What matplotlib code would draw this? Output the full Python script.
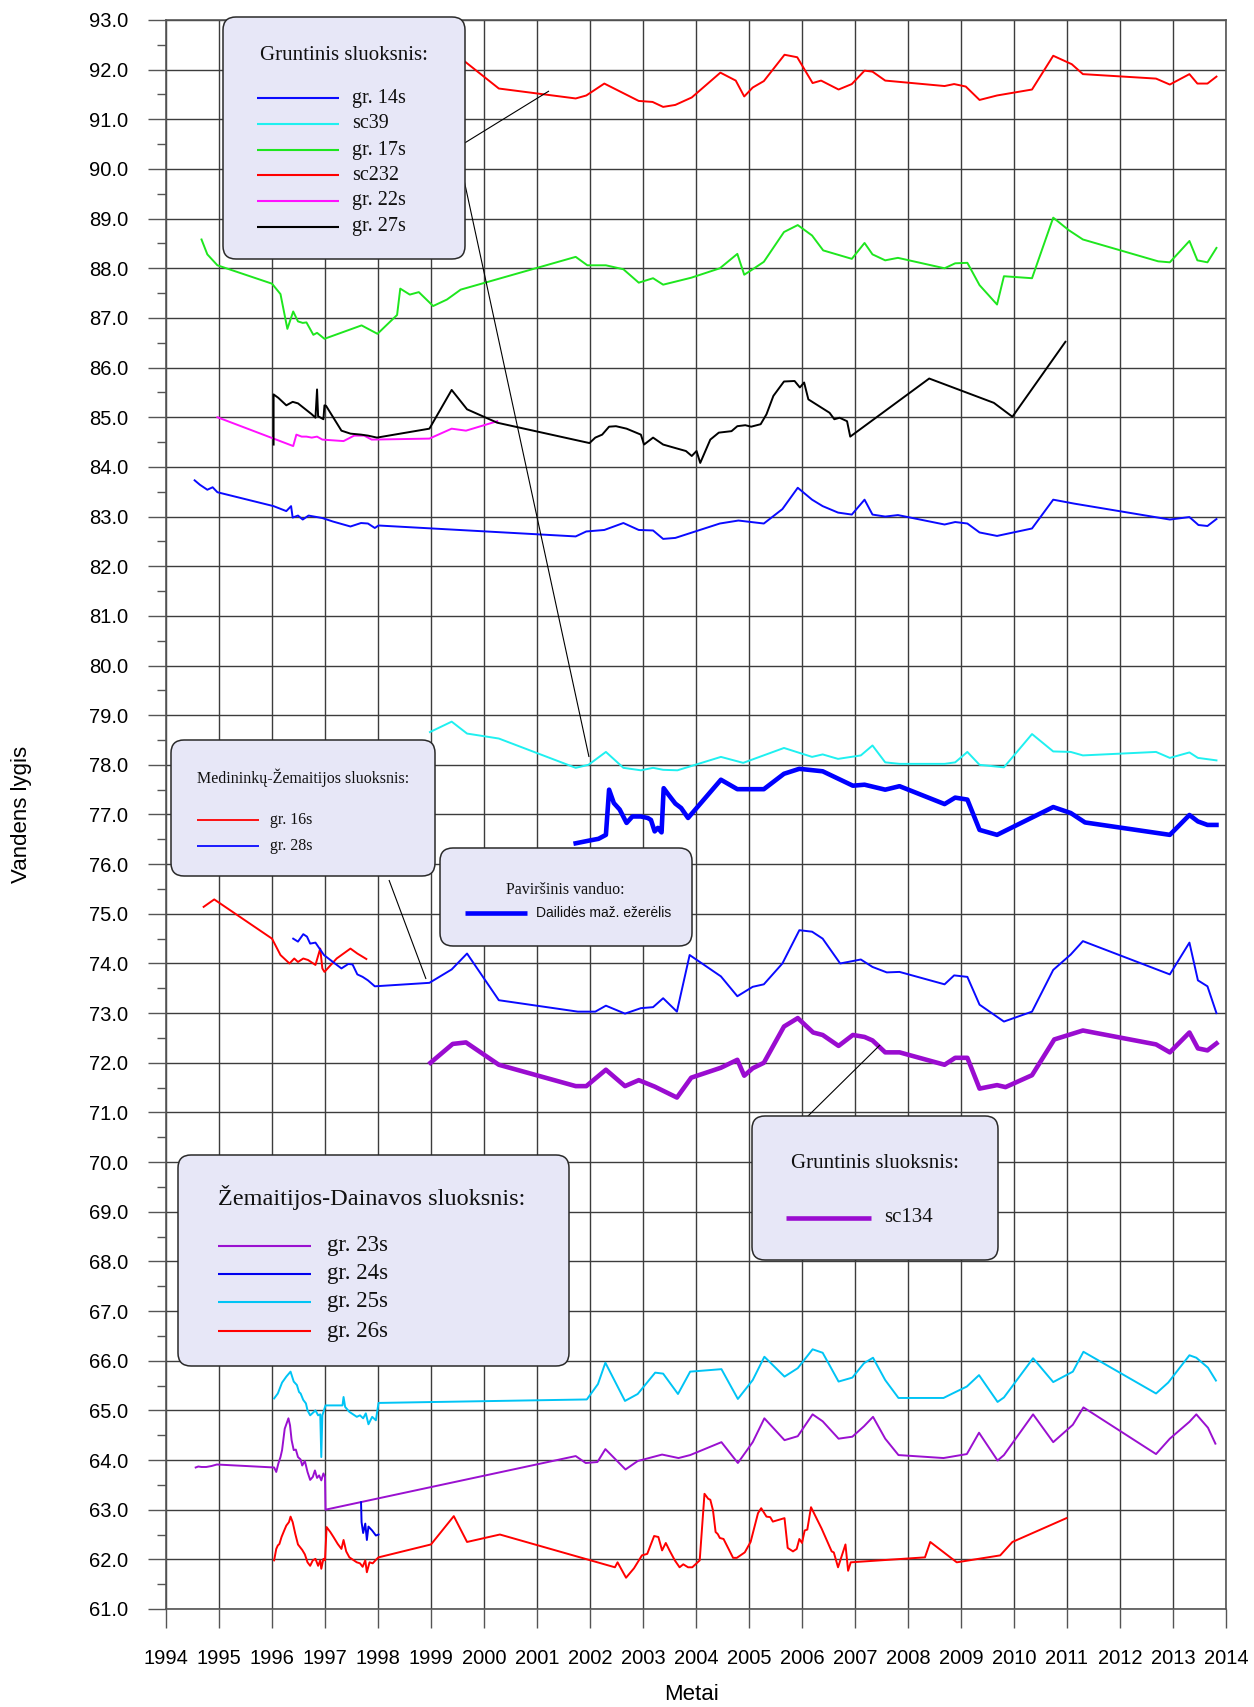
import matplotlib
matplotlib.use("Agg")
import matplotlib.pyplot as plt
from matplotlib.lines import Line2D
from matplotlib.patches import FancyBboxPatch
from matplotlib.transforms import IdentityTransform
from matplotlib.ticker import MultipleLocator, FormatStrFormatter

W, H = 1254, 1707
SANS = "Liberation Sans"
SERIF = "Liberation Serif"

# ---- data (year, level) ----
sc232_x = [1999.30, 1999.62, 2000.28, 2001.73, 2001.93, 2002.27, 2002.92, 2003.18, 2003.38, 2003.61,
           2003.92, 2004.46, 2004.75, 2004.91, 2005.07, 2005.28, 2005.67, 2005.91, 2006.20, 2006.36,
           2006.69, 2006.94, 2007.18, 2007.33, 2007.57, 2008.69, 2008.87, 2009.09, 2009.35, 2009.68,
           2010.34, 2010.74, 2011.09, 2011.30, 2012.68, 2012.94, 2013.31, 2013.46, 2013.65, 2013.82]
sc232_y = [92.45, 92.18, 91.62, 91.42, 91.48, 91.72, 91.37, 91.35, 91.25, 91.29,
           91.44, 91.94, 91.78, 91.46, 91.64, 91.77, 92.30, 92.25, 91.73, 91.78,
           91.60, 91.71, 91.98, 91.96, 91.78, 91.67, 91.71, 91.66, 91.39, 91.48,
           91.60, 92.28, 92.11, 91.91, 91.82, 91.70, 91.91, 91.72, 91.72, 91.86]

gr17_x = [1994.67, 1994.78, 1994.97, 1996.00, 1996.16, 1996.29, 1996.40, 1996.49, 1996.58, 1996.65,
          1996.78, 1996.85, 1996.99, 1997.69, 1997.99, 1998.36, 1998.42, 1998.60, 1998.77, 1999.04,
          1999.30, 1999.56, 2001.73, 2001.95, 2002.30, 2002.63, 2002.92, 2003.19, 2003.38, 2003.91,
          2004.45, 2004.78, 2004.91, 2005.07, 2005.28, 2005.66, 2005.92, 2006.19, 2006.40, 2006.94,
          2007.18, 2007.33, 2007.57, 2007.81, 2008.69, 2008.89, 2009.12, 2009.35, 2009.68, 2009.81,
          2010.34, 2010.74, 2011.03, 2011.30, 2012.72, 2012.94, 2013.31, 2013.46, 2013.65, 2013.82]
gr17_y = [88.58, 88.28, 88.06, 87.69, 87.48, 86.78, 87.13, 86.93, 86.90, 86.91,
          86.66, 86.70, 86.58, 86.85, 86.68, 87.06, 87.59, 87.47, 87.52, 87.24,
          87.37, 87.57, 88.23, 88.06, 88.06, 87.98, 87.71, 87.80, 87.67, 87.81,
          88.00, 88.29, 87.87, 87.98, 88.13, 88.73, 88.87, 88.66, 88.36, 88.19,
          88.51, 88.28, 88.16, 88.21, 88.00, 88.10, 88.11, 87.66, 87.27, 87.84,
          87.80, 89.02, 88.77, 88.58, 88.14, 88.12, 88.55, 88.16, 88.12, 88.41]

gr27_x = [1996.03, 1996.03, 1996.12, 1996.27, 1996.39, 1996.49, 1996.62, 1996.75, 1996.82, 1996.85,
          1996.87, 1996.97, 1996.99, 1997.02, 1997.31, 1997.48, 1997.68, 1997.81, 1997.98, 1998.97,
          1999.39, 1999.68, 2000.25, 2001.99, 2002.10, 2002.23, 2002.36, 2002.49, 2002.69, 2002.96,
          2003.02, 2003.19, 2003.38, 2003.61, 2003.81, 2003.92, 2004.01, 2004.08, 2004.27, 2004.43,
          2004.67, 2004.78, 2004.93, 2005.04, 2005.22, 2005.33, 2005.46, 2005.66, 2005.86, 2005.96,
          2006.04, 2006.12, 2006.52, 2006.61, 2006.71, 2006.85, 2006.91, 2008.40, 2009.62, 2009.97,
          2010.97]
gr27_y = [84.45, 85.46, 85.39, 85.24, 85.31, 85.28, 85.17, 85.06, 84.99, 85.56,
          85.02, 84.96, 85.24, 85.23, 84.73, 84.67, 84.65, 84.63, 84.59, 84.77,
          85.55, 85.16, 84.89, 84.48, 84.59, 84.65, 84.81, 84.82, 84.77, 84.65,
          84.45, 84.59, 84.45, 84.38, 84.32, 84.22, 84.32, 84.08, 84.55, 84.69,
          84.72, 84.82, 84.84, 84.81, 84.86, 85.06, 85.43, 85.72, 85.73, 85.60,
          85.70, 85.36, 85.09, 84.96, 84.99, 84.92, 84.61, 85.78, 85.29, 85.01,
          86.52]

gr22_x = [1994.97, 1996.03, 1996.40, 1996.46, 1996.56, 1996.65, 1996.75, 1996.85, 1996.95, 1997.35,
          1997.55, 1997.74, 1997.88, 1998.97, 1999.39, 1999.66, 2000.25]
gr22_y = [85.00, 84.57, 84.42, 84.65, 84.61, 84.61, 84.59, 84.61, 84.55, 84.52,
          84.63, 84.63, 84.55, 84.57, 84.77, 84.73, 84.92]

gr14_x = [1994.54, 1994.64, 1994.78, 1994.88, 1994.97, 1996.03, 1996.27, 1996.36, 1996.39, 1996.49,
          1996.58, 1996.69, 1996.95, 1997.15, 1997.48, 1997.68, 1997.81, 1997.94, 1998.01, 2001.73,
          2001.93, 2002.27, 2002.63, 2002.92, 2003.19, 2003.38, 2003.61, 2004.45, 2004.80, 2005.28,
          2005.63, 2005.92, 2006.19, 2006.39, 2006.68, 2006.94, 2007.18, 2007.33, 2007.57, 2007.81,
          2008.69, 2008.89, 2009.12, 2009.35, 2009.68, 2010.34, 2010.74, 2011.14, 2012.94, 2013.31,
          2013.48, 2013.65, 2013.82]
gr14_y = [83.73, 83.64, 83.54, 83.59, 83.49, 83.21, 83.11, 83.21, 82.98, 83.02,
          82.94, 83.02, 82.97, 82.90, 82.80, 82.87, 82.86, 82.77, 82.82, 82.60,
          82.70, 82.73, 82.87, 82.73, 82.72, 82.55, 82.57, 82.86, 82.92, 82.86,
          83.15, 83.58, 83.34, 83.21, 83.08, 83.04, 83.34, 83.04, 83.00, 83.03,
          82.84, 82.89, 82.86, 82.68, 82.61, 82.76, 83.34, 83.26, 82.94, 82.99,
          82.83, 82.81, 82.95]

sc39_x = [1998.98, 1999.39, 1999.68, 2000.28, 2001.73, 2001.97, 2002.30, 2002.63, 2002.96, 2003.19,
          2003.38, 2003.65, 2004.47, 2004.89, 2005.66, 2006.19, 2006.39, 2006.68, 2007.11, 2007.33,
          2007.57, 2007.84, 2008.69, 2008.89, 2009.12, 2009.35, 2009.81, 2010.34, 2010.74, 2011.07,
          2011.30, 2012.68, 2012.94, 2013.31, 2013.47, 2013.82]
sc39_y = [78.66, 78.87, 78.63, 78.53, 77.94, 78.00, 78.26, 77.94, 77.89, 77.94,
          77.90, 77.89, 78.16, 78.04, 78.34, 78.16, 78.21, 78.12, 78.19, 78.39,
          78.05, 78.02, 78.02, 78.05, 78.26, 78.00, 77.95, 78.62, 78.27, 78.26,
          78.19, 78.26, 78.14, 78.25, 78.14, 78.09]

dail_x = [2001.73, 2002.01, 2002.16, 2002.30, 2002.36, 2002.45, 2002.56, 2002.69, 2002.80, 2002.96,
          2003.09, 2003.15, 2003.22, 2003.28, 2003.35, 2003.39, 2003.48, 2003.61, 2003.72, 2003.85,
          2004.47, 2004.78, 2005.28, 2005.66, 2005.95, 2006.39, 2006.96, 2007.18, 2007.57, 2007.84,
          2008.69, 2008.89, 2009.12, 2009.35, 2009.68, 2010.74, 2011.07, 2011.34, 2012.94, 2013.31,
          2013.47, 2013.65, 2013.82]
dail_y = [76.42, 76.48, 76.51, 76.59, 77.50, 77.23, 77.10, 76.83, 76.96, 76.96,
          76.93, 76.89, 76.66, 76.73, 76.64, 77.53, 77.40, 77.22, 77.13, 76.93,
          77.70, 77.51, 77.51, 77.82, 77.92, 77.87, 77.58, 77.60, 77.50, 77.57,
          77.21, 77.34, 77.30, 76.69, 76.59, 77.15, 77.03, 76.84, 76.59, 76.99,
          76.86, 76.79, 76.79]

gr16_x = [1994.71, 1994.91, 1996.00, 1996.16, 1996.33, 1996.42, 1996.49, 1996.59, 1996.68, 1996.82,
          1996.91, 1996.95, 1996.99, 1997.22, 1997.48, 1997.61, 1997.78]
gr16_y = [75.14, 75.29, 74.50, 74.17, 74.00, 74.10, 74.03, 74.10, 74.07, 73.97,
          74.30, 73.90, 73.83, 74.10, 74.30, 74.20, 74.09]

gr28_x = [1996.40, 1996.49, 1996.59, 1996.66, 1996.72, 1996.82, 1996.98, 1997.15, 1997.31, 1997.44,
          1997.52, 1997.61, 1997.71, 1997.81, 1997.94, 1998.97, 1999.39, 1999.68, 2000.28, 2001.77,
          2002.10, 2002.30, 2002.66, 2002.96, 2003.19, 2003.38, 2003.64, 2003.88, 2004.47, 2004.78,
          2005.07, 2005.28, 2005.63, 2005.95, 2006.19, 2006.39, 2006.72, 2007.11, 2007.33, 2007.60,
          2007.84, 2008.69, 2008.87, 2009.12, 2009.35, 2009.81, 2010.34, 2010.74, 2011.07, 2011.30,
          2012.94, 2013.31, 2013.47, 2013.65, 2013.82]
gr28_y = [74.50, 74.44, 74.59, 74.54, 74.40, 74.42, 74.17, 74.03, 73.90, 73.99,
          73.98, 73.78, 73.73, 73.66, 73.54, 73.61, 73.88, 74.20, 73.26, 73.03,
          73.03, 73.15, 72.99, 73.10, 73.12, 73.30, 73.03, 74.17, 73.74, 73.34,
          73.53, 73.58, 74.00, 74.67, 74.64, 74.50, 74.00, 74.08, 73.93, 73.82,
          73.83, 73.58, 73.76, 73.73, 73.17, 72.83, 73.03, 73.87, 74.18, 74.45,
          73.78, 74.42, 73.66, 73.54, 73.00]

sc134_x = [1998.99, 1999.41, 1999.66, 2000.28, 2001.73, 2001.93, 2002.30, 2002.66, 2002.92, 2003.22,
           2003.64, 2003.91, 2004.47, 2004.78, 2004.91, 2005.07, 2005.28, 2005.66, 2005.92, 2006.21,
           2006.39, 2006.69, 2006.96, 2007.18, 2007.33, 2007.57, 2007.84, 2008.69, 2008.89, 2009.12,
           2009.35, 2009.68, 2009.84, 2010.34, 2010.76, 2011.30, 2012.68, 2012.94, 2013.31, 2013.47,
           2013.65, 2013.82]
sc134_y = [72.00, 72.38, 72.41, 71.96, 71.53, 71.53, 71.86, 71.53, 71.65, 71.52,
           71.30, 71.70, 71.90, 72.06, 71.74, 71.89, 72.00, 72.73, 72.90, 72.61,
           72.56, 72.34, 72.56, 72.52, 72.45, 72.21, 72.21, 71.96, 72.10, 72.10,
           71.48, 71.55, 71.51, 71.75, 72.47, 72.65, 72.37, 72.21, 72.61, 72.29,
           72.25, 72.39]

gr25_x = [1996.04, 1996.11, 1996.19, 1996.27, 1996.35, 1996.41, 1996.47, 1996.51, 1996.54, 1996.59,
          1996.64, 1996.67, 1996.72, 1996.77, 1996.82, 1996.87, 1996.91, 1996.93, 1996.95, 1997.01,
          1997.33, 1997.35, 1997.38, 1997.46, 1997.53, 1997.60, 1997.66, 1997.72, 1997.77, 1997.82,
          1997.89, 1997.96, 1998.01, 2001.94, 2002.15, 2002.29, 2002.66, 2002.90, 2003.23, 2003.38,
          2003.66, 2003.89, 2004.48, 2004.79, 2005.07, 2005.29, 2005.67, 2005.92, 2006.20, 2006.39,
          2006.69, 2006.95, 2007.17, 2007.34, 2007.57, 2007.82, 2008.67, 2008.84, 2009.11, 2009.34,
          2009.69, 2009.81, 2010.36, 2010.74, 2011.11, 2011.31, 2012.68, 2012.91, 2013.31, 2013.44,
          2013.66, 2013.81]
gr25_y = [65.24, 65.34, 65.56, 65.68, 65.78, 65.58, 65.51, 65.37, 65.34, 65.21,
          65.14, 65.00, 64.90, 64.95, 65.00, 64.90, 64.92, 64.06, 64.90, 65.10,
          65.10, 65.27, 65.07, 64.97, 64.92, 64.87, 64.90, 64.84, 64.94, 64.72,
          64.87, 64.80, 65.15, 65.22, 65.53, 65.96, 65.19, 65.33, 65.76, 65.74,
          65.33, 65.78, 65.83, 65.23, 65.61, 66.08, 65.68, 65.85, 66.23, 66.16,
          65.58, 65.66, 65.95, 66.06, 65.61, 65.25, 65.25, 65.34, 65.48, 65.71,
          65.17, 65.26, 66.05, 65.57, 65.78, 66.18, 65.34, 65.56, 66.11, 66.06,
          65.86, 65.60]

gr23_x = [1994.56, 1994.61, 1994.67, 1994.76, 1994.86, 1994.96, 1996.04, 1996.08, 1996.12, 1996.16,
          1996.19, 1996.24, 1996.31, 1996.34, 1996.37, 1996.41, 1996.45, 1996.49, 1996.54, 1996.57,
          1996.62, 1996.67, 1996.72, 1996.77, 1996.81, 1996.85, 1996.89, 1996.93, 1996.97, 1997.00,
          1997.01, 2001.73, 2001.92, 2002.14, 2002.29, 2002.67, 2002.90, 2003.36, 2003.67, 2003.89,
          2004.48, 2004.79, 2005.07, 2005.29, 2005.67, 2005.92, 2006.20, 2006.39, 2006.69, 2006.95,
          2007.17, 2007.34, 2007.57, 2007.82, 2008.67, 2009.11, 2009.34, 2009.69, 2009.81, 2010.36,
          2010.74, 2011.11, 2011.31, 2012.68, 2012.94, 2013.31, 2013.44, 2013.66, 2013.80]
gr23_y = [63.85, 63.87, 63.86, 63.86, 63.88, 63.91, 63.85, 63.76, 63.93, 64.06,
          64.20, 64.63, 64.84, 64.70, 64.40, 64.20, 64.21, 64.06, 64.01, 63.89,
          63.98, 63.76, 63.60, 63.66, 63.79, 63.64, 63.69, 63.59, 63.73, 63.66,
          63.00, 64.08, 63.94, 63.96, 64.22, 63.81, 63.98, 64.11, 64.04, 64.10,
          64.36, 63.94, 64.36, 64.84, 64.40, 64.48, 64.92, 64.78, 64.43, 64.47,
          64.68, 64.87, 64.43, 64.10, 64.04, 64.12, 64.55, 63.99, 64.10, 64.92,
          64.36, 64.71, 65.06, 64.12, 64.43, 64.77, 64.92, 64.65, 64.33]

gr24_x = [1997.68, 1997.69, 1997.72, 1997.76, 1997.79, 1997.82, 1997.89, 1997.96, 1998.01]
gr24_y = [63.15, 62.75, 62.53, 62.72, 62.39, 62.66, 62.58, 62.48, 62.50]

gr26_x = [1996.04, 1996.08, 1996.11, 1996.14, 1996.18, 1996.23, 1996.27, 1996.32, 1996.35, 1996.39,
          1996.44, 1996.49, 1996.57, 1996.62, 1996.67, 1996.72, 1996.77, 1996.82, 1996.87, 1996.91,
          1996.93, 1996.97, 1997.00, 1997.03, 1997.10, 1997.16, 1997.24, 1997.31, 1997.35, 1997.40,
          1997.46, 1997.53, 1997.60, 1997.66, 1997.71, 1997.76, 1997.79, 1997.84, 1997.90, 1997.96,
          1998.01, 1999.00, 1999.43, 1999.68, 2000.30, 2002.47, 2002.52, 2002.68, 2002.83, 2002.98,
          2003.08, 2003.21, 2003.29, 2003.36, 2003.43, 2003.50, 2003.60, 2003.69, 2003.76, 2003.85,
          2003.93, 2004.07, 2004.16, 2004.23, 2004.27, 2004.32, 2004.37, 2004.41, 2004.45, 2004.52,
          2004.70, 2004.77, 2004.92, 2005.03, 2005.17, 2005.23, 2005.33, 2005.40, 2005.45, 2005.67,
          2005.73, 2005.83, 2005.90, 2005.95, 2006.00, 2006.05, 2006.10, 2006.17, 2006.37, 2006.56,
          2006.60, 2006.68, 2006.82, 2006.87, 2006.92, 2008.32, 2008.42, 2008.92, 2009.74, 2009.97,
          2010.99]
gr26_y = [61.98, 62.21, 62.28, 62.31, 62.45, 62.58, 62.68, 62.75, 62.86, 62.75,
          62.51, 62.30, 62.19, 62.10, 61.94, 61.87, 61.98, 62.01, 61.87, 61.98,
          61.81, 62.01, 61.98, 62.65, 62.55, 62.45, 62.31, 62.21, 62.39, 62.16,
          62.04, 61.99, 61.94, 61.92, 61.85, 61.98, 61.74, 61.94, 61.92, 61.99,
          62.04, 62.30, 62.87, 62.35, 62.50, 61.84, 61.94, 61.63, 61.82, 62.08,
          62.11, 62.47, 62.45, 62.18, 62.33, 62.18, 61.98, 61.84, 61.90, 61.84,
          61.84, 61.98, 63.32, 63.22, 63.20, 62.99, 62.55, 62.51, 62.43, 62.41,
          62.03, 62.03, 62.14, 62.35, 62.93, 63.03, 62.86, 62.85, 62.76, 62.83,
          62.23, 62.16, 62.21, 62.41, 62.33, 62.58, 62.60, 63.05, 62.62, 62.16,
          62.14, 61.84, 62.30, 61.77, 61.94, 62.04, 62.35, 61.94, 62.08, 62.35,
          62.83]

years = list(range(1994, 2015))

# ---- figure ----
fig = plt.figure(figsize=(W / 100, H / 100), dpi=100)
fig.patch.set_facecolor("white")
ax = fig.add_axes([166 / W, 1 - 1609 / H, (1226 - 166) / W, (1609 - 20) / H])

thin = 1.4
ax.plot(gr14_x, gr14_y, color="#0a0aff", lw=thin)
ax.plot(sc39_x, sc39_y, color="#1ff0f0", lw=thin)
ax.plot(gr17_x, gr17_y, color="#1ee61e", lw=thin)
ax.plot(sc232_x, sc232_y, color="#ff0000", lw=thin)
ax.plot(gr22_x, gr22_y, color="#ff10ff", lw=thin)
ax.plot(gr27_x, gr27_y, color="#000000", lw=thin)
ax.plot(gr16_x, gr16_y, color="#ff0000", lw=thin)
ax.plot(gr28_x, gr28_y, color="#0a0aff", lw=thin)
ax.plot(dail_x, dail_y, color="#0000ff", lw=3.3, solid_joinstyle="round")
ax.plot(sc134_x, sc134_y, color="#9a0cd0", lw=3.3, solid_joinstyle="round")
ax.plot(gr25_x, gr25_y, color="#00c4f5", lw=thin)
ax.plot(gr23_x, gr23_y, color="#9a10d0", lw=thin)
ax.plot(gr24_x, gr24_y, color="#0000ee", lw=thin)
ax.plot(gr26_x, gr26_y, color="#ff0000", lw=thin)

ax.set_xlim(1994, 2014)
ax.set_ylim(61, 93)
ax.set_xticks(years)
ax.set_xticklabels([str(y) for y in years])
ax.yaxis.set_major_locator(MultipleLocator(1))
ax.yaxis.set_minor_locator(MultipleLocator(0.5))
ax.yaxis.set_major_formatter(FormatStrFormatter("%.1f"))
ax.grid(True, which="major", color="#3c3c3c", lw=1.0)
ax.set_axisbelow(True)
for s in ax.spines.values():
    s.set_color("#555555")
    s.set_linewidth(1.2)
ax.tick_params(axis="y", which="major", direction="out", length=13, width=1.0,
               color="#555555", pad=14, labelsize=14.5)
ax.tick_params(axis="y", which="minor", direction="out", length=6.5, width=1.0, color="#555555")
ax.tick_params(axis="x", which="major", direction="out", length=14, width=1.0,
               color="#555555", pad=15, labelsize=14.5)
for lab in ax.get_xticklabels() + ax.get_yticklabels():
    lab.set_fontfamily(SANS)

fig.text(692 / W, 1 - 1694 / H, "Metai", ha="center", va="center", fontsize=16, family=SANS)
fig.text(22 / W, 1 - 814 / H, "Vandens lygis", ha="center", va="center", rotation=90,
         fontsize=16, family=SANS)

# ---- annotation boxes, in output pixels (y from the top) ----
ID = IdentityTransform()


def P(x, y):
    return x, H - y


def seg(x0, y0, x1, y1, color="black", lw=0.8, z=1.5):
    a, b = P(x0, y0)
    c, d = P(x1, y1)
    fig.add_artist(Line2D([a, c], [b, d], color=color, lw=lw, transform=ID, zorder=z,
                          solid_capstyle="butt"))


def box(x0, y0, x1, y1):
    bx, by = P(x0, y1)
    fig.add_artist(FancyBboxPatch((bx, by), x1 - x0, y1 - y0,
                                  boxstyle="round,pad=0,rounding_size=13",
                                  facecolor="#e7e7f7", edgecolor="#2a2a2a", lw=1.1,
                                  transform=ID, zorder=2))


def txt(x, y, s, size, ha="left", family=SERIF):
    a, b = P(x, y)
    fig.text(a, b, s, transform=ID, ha=ha, va="center", fontsize=size, family=family,
             color="#111111", zorder=4)


# leader lines
seg(463, 144, 549, 91)
seg(461, 166, 589, 757)
seg(389, 880, 426, 979)
seg(807, 1117, 880, 1045)

# box 1
box(223, 17, 465, 259)
txt(344, 56, "Gruntinis sluoksnis:", 15, ha="center")
b1_names = ["gr. 14s", "sc39", "gr. 17s", "sc232", "gr. 22s", "gr. 27s"]
b1_cols = ["#0a0aff", "#1ff0f0", "#1ee61e", "#ff0000", "#ff10ff", "#000000"]
for i, (nm, c) in enumerate(zip(b1_names, b1_cols)):
    yy = [98, 124, 150, 175, 201, 227][i]
    seg(257, yy, 339, yy, color=c, lw=1.5, z=3)
    txt(352, yy, nm, 14.5)

# box 2
box(171, 740, 435, 876)
txt(197, 778, "Medininkų-Žemaitijos sluoksnis:", 11.5)
seg(197, 820, 259, 820, color="#ff0000", lw=1.3, z=3)
txt(270, 820, "gr. 16s", 11.5)
seg(197, 846, 259, 846, color="#0a0aff", lw=1.3, z=3)
txt(270, 846, "gr. 28s", 11.5)

# box 3
box(440, 848, 692, 946)
txt(565, 890, "Paviršinis vanduo:", 11.5, ha="center")
seg(465, 913, 527, 913, color="#0000ff", lw=3.3, z=3)
txt(536, 913, "Dailidės maž. ežerėlis", 10, family=SANS)

# box 4
box(178, 1155, 569, 1366)
txt(218, 1197, "Žemaitijos-Dainavos sluoksnis:", 17.5)
b4_names = ["gr. 23s", "gr. 24s", "gr. 25s", "gr. 26s"]
b4_cols = ["#9a10d0", "#0000ee", "#00c4f5", "#ff0000"]
for nm, c, yy in zip(b4_names, b4_cols, [1246, 1274, 1302, 1331]):
    seg(218, yy, 311, yy, color=c, lw=1.5, z=3)
    txt(327, yy, nm, 16.5)

# box 5
box(752, 1116, 998, 1260)
txt(875, 1164, "Gruntinis sluoksnis:", 15, ha="center")
seg(786, 1218, 871, 1218, color="#9a0cd0", lw=3.3, z=3)
txt(884, 1218, "sc134", 15)

fig.savefig("out.png", dpi=100)
